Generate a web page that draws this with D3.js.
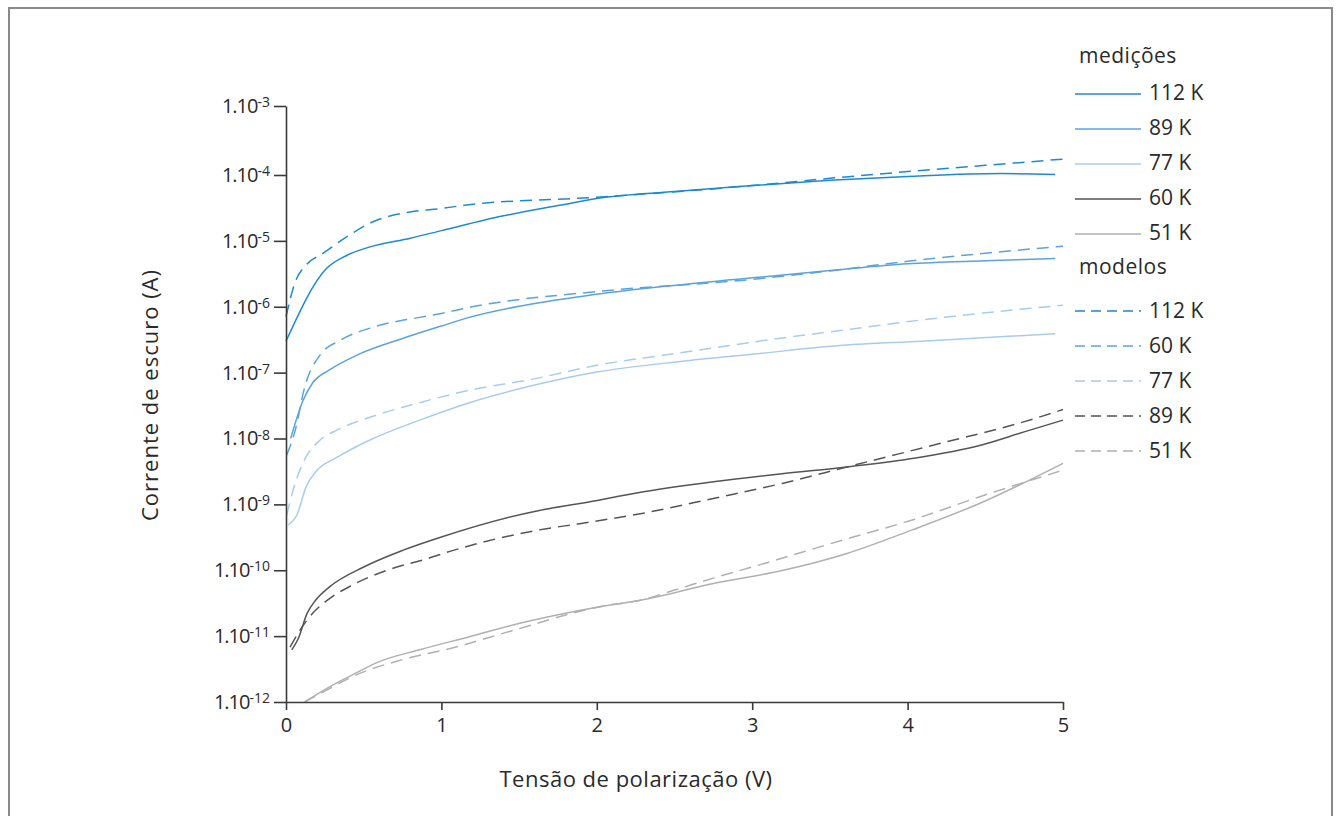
<!DOCTYPE html>
<html>
<head>
<meta charset="utf-8">
<script src="https://cdn.jsdelivr.net/npm/d3@7.9.0/dist/d3.min.js"></script>
<style>
  body { margin: 0; background: #fff; }
  svg { display: block; font-family: "Open Sans", sans-serif; }
</style>
</head>
<body>
<svg id="chart" width="1338" height="816"></svg>
<script>
// tick values
const voltTicks = [0, 1, 2, 3, 4, 5];
const currentTicks = [1e-3, 1e-4, 1e-5, 1e-6, 1e-7, 1e-8, 1e-9, 1e-10, 1e-11, 1e-12];

// medições: [tensão (V), corrente (A)]
const med112 = [[0, 3.0e-7], [0.26, 3.8e-6], [0.39, 6.0e-6], [0.54, 8.1e-6], [0.8, 1.1e-5], [1.0, 1.43e-5],
  [1.4, 2.4e-5], [1.77, 3.5e-5], [2.0, 4.4e-5], [2.5, 5.6e-5], [3.0, 6.9e-5], [3.5, 8.3e-5], [4.0, 9.5e-5],
  [4.6, 1.05e-4], [4.95, 1.02e-4]];
const med89 = [[0.03, 1.0e-8], [0.11, 3.8e-8], [0.17, 6.9e-8], [0.28, 1.1e-7], [0.46, 1.86e-7], [0.75, 3.3e-7],
  [1.0, 5.1e-7], [1.18, 6.9e-7], [1.5, 1.02e-6], [2.0, 1.55e-6], [3.0, 2.75e-6], [3.5, 3.55e-6], [4.0, 4.5e-6],
  [4.5, 5.0e-6], [4.95, 5.4e-6]];
const med77 = [[0.013, 4.9e-10], [0.07, 6.9e-10], [0.13, 1.86e-9], [0.19, 3.1e-9], [0.33, 5.2e-9], [0.54, 9.5e-9],
  [0.86, 1.9e-8], [1.18, 3.5e-8], [1.58, 6.3e-8], [2.0, 1.02e-7], [2.54, 1.48e-7], [3.0, 1.9e-7], [3.58, 2.6e-7],
  [4.09, 3.0e-7], [4.95, 3.9e-7]];
const med60 = [[0.037, 6.2e-12], [0.08, 9.3e-12], [0.135, 2.2e-11], [0.19, 3.5e-11], [0.28, 5.6e-11], [0.5, 1.12e-10],
  [0.75, 2.0e-10], [1.0, 3.2e-10], [1.63, 8.1e-10], [1.89, 1.03e-9], [2.3, 1.55e-9], [2.75, 2.2e-9], [3.18, 2.9e-9],
  [3.61, 3.7e-9], [4.04, 5.0e-9], [4.47, 7.9e-9], [4.75, 1.26e-8], [5.0, 1.9e-8]];
const med51 = [[0.12, 1.0e-12], [0.28, 1.7e-12], [0.43, 2.6e-12], [0.6, 4.1e-12], [0.86, 6.2e-12], [1.18, 9.8e-12],
  [1.51, 1.58e-11], [2.02, 2.8e-11], [2.28, 3.5e-11], [2.75, 6.3e-11], [3.2, 1.0e-10], [3.61, 1.8e-10],
  [4.03, 4.1e-10], [4.47, 1.05e-9], [5.0, 4.2e-9]];

// modelos
const mod112 = [[0, 7.1e-7], [0.06, 2.4e-6], [0.13, 4.3e-6], [0.24, 6.5e-6], [0.39, 1.15e-5], [0.56, 1.95e-5],
  [0.8, 2.75e-5], [1.0, 3.1e-5], [1.16, 3.5e-5], [2.0, 4.6e-5], [3.0, 6.9e-5], [3.5, 8.9e-5], [4.0, 1.12e-4],
  [4.5, 1.38e-4], [5.0, 1.7e-4]];
const mod60 = [[0.005, 5.6e-9], [0.06, 1.35e-8], [0.12, 6.0e-8], [0.22, 1.86e-7], [0.35, 3.1e-7], [0.56, 4.9e-7],
  [0.86, 6.9e-7], [1.0, 7.9e-7], [1.18, 9.8e-7], [2.0, 1.7e-6], [3.0, 2.6e-6], [3.5, 3.5e-6], [4.0, 4.9e-6],
  [4.5, 6.5e-6], [5.0, 8.3e-6]];
const mod77 = [[0.005, 6.9e-10], [0.04, 1.48e-9], [0.11, 4.3e-9], [0.22, 9.5e-9], [0.33, 1.35e-8], [0.54, 2.1e-8],
  [0.86, 3.5e-8], [1.18, 5.4e-8], [1.58, 7.9e-8], [2.0, 1.29e-7], [2.54, 2.0e-7], [3.0, 2.9e-7], [3.58, 4.4e-7],
  [4.09, 6.3e-7], [4.5, 8.1e-7], [5.0, 1.05e-6]];
const mod89 = [[0.026, 6.8e-12], [0.09, 1.23e-11], [0.17, 2.2e-11], [0.28, 3.7e-11], [0.43, 6.0e-11], [0.65, 1.0e-10],
  [0.91, 1.5e-10], [1.06, 1.95e-10], [1.63, 4.1e-10], [1.89, 5.1e-10], [2.28, 7.2e-10], [2.75, 1.23e-9],
  [3.2, 2.1e-9], [3.61, 3.7e-9], [4.25, 8.9e-9], [4.7, 1.66e-8], [5.0, 2.75e-8]];
const mod51 = [[0.12, 1.0e-12], [0.28, 1.6e-12], [0.43, 2.45e-12], [0.75, 4.4e-12], [1.07, 6.6e-12], [1.45, 1.2e-11],
  [2.02, 2.8e-11], [2.28, 3.5e-11], [2.5, 5.0e-11], [2.75, 7.6e-11], [3.0, 1.12e-10], [3.61, 3.0e-10],
  [4.03, 5.8e-10], [4.47, 1.32e-9], [5.0, 3.3e-9]];

const medLabels = ['112 K', '89 K', '77 K', '60 K', '51 K'];
const modLabels = ['112 K', '60 K', '77 K', '89 K', '51 K'];
const colors = ['#1c8ad2', '#5ba3dd', '#a8ccee', '#555555', '#b0b0b0'];

const medSeries = [med112, med89, med77, med60, med51];
const modSeries = [mod112, mod60, mod77, mod89, mod51];

const svg = d3.select('#chart');

// moldura
svg.append('rect')
  .attr('x', 9).attr('y', 8).attr('width', 1323).attr('height', 830)
  .attr('fill', 'none').attr('stroke', '#8a8a8a').attr('stroke-width', 2);

const x = d3.scaleLinear().domain([0, 5]).range([286, 1063]);
// top decade is drawn a bit taller in the original
const y = d3.scaleLog().domain([1e-12, 1e-4, 1e-3]).range([702, 175, 106]);

const line = d3.line()
  .x(d => x(d[0]))
  .y(d => y(d[1]))
  .curve(d3.curveMonotoneX);

// curvas
const plot = svg.append('g');
medSeries.forEach((s, i) => {
  plot.append('path')
    .attr('d', line(s))
    .attr('fill', 'none')
    .attr('stroke', colors[i])
    .attr('stroke-width', 1.5);
});
modSeries.forEach((s, i) => {
  plot.append('path')
    .attr('d', line(s))
    .attr('fill', 'none')
    .attr('stroke', colors[i])
    .attr('stroke-width', 1.5)
    .attr('stroke-dasharray', '12,7');
});

// eixos
const axisColor = '#3a3a3a';
const xAxis = svg.append('g')
  .attr('transform', 'translate(0,702)')
  .call(d3.axisBottom(x).tickValues(voltTicks).tickSize(8).tickSizeOuter(0).tickPadding(8).tickFormat(d3.format('d')));
const yAxis = svg.append('g')
  .attr('transform', 'translate(286,0)')
  .call(d3.axisLeft(y).tickValues(currentTicks).tickSize(12).tickSizeOuter(0).tickPadding(4).tickFormat(() => ''));

[xAxis, yAxis].forEach(g => {
  g.select('.domain').attr('stroke', axisColor).attr('stroke-width', 1.6);
  g.selectAll('.tick line').attr('stroke', axisColor).attr('stroke-width', 1.6);
  g.selectAll('.tick text').attr('fill', '#2a2a2a').attr('font-family', '"Open Sans", sans-serif');
});
xAxis.selectAll('.tick text').attr('font-size', 20);

yAxis.selectAll('.tick text')
  .attr('font-size', 20)
  .each(function (d) {
    const t = d3.select(this);
    t.append('tspan').attr('letter-spacing', -1).text('1.10');
    t.append('tspan')
      .attr('font-size', 14)
      .attr('dy', '-0.42em')
      .text(String(Math.round(Math.log10(d))));
  });

// títulos dos eixos
svg.append('text')
  .attr('x', 636).attr('y', 787)
  .attr('text-anchor', 'middle')
  .attr('font-size', 22).attr('letter-spacing', 0.5).attr('fill', '#2a2a2a')
  .text('Tensão de polarização (V)');
svg.append('text')
  .attr('transform', 'translate(158,395) rotate(-90)')
  .attr('text-anchor', 'middle')
  .attr('font-size', 22).attr('letter-spacing', 1).attr('fill', '#2a2a2a')
  .text('Corrente de escuro (A)');

// legenda
const legend = svg.append('g').attr('font-size', 21).attr('fill', '#2a2a2a');
legend.append('text').attr('x', 1079).attr('y', 63).attr('letter-spacing', 0.5).text('medições');
medLabels.forEach((lab, i) => {
  const cy = 93 + i * 35;
  legend.append('line')
    .attr('x1', 1075).attr('x2', 1141).attr('y1', cy + 1).attr('y2', cy + 1)
    .attr('stroke', colors[i]).attr('stroke-width', 1.5);
  legend.append('text').attr('x', 1149).attr('y', cy).attr('dy', '0.35em').text(lab);
});
legend.append('text').attr('x', 1079).attr('y', 274).attr('letter-spacing', 0.5).text('modelos');
modLabels.forEach((lab, i) => {
  const cy = 311 + i * 35;
  legend.append('line')
    .attr('x1', 1075).attr('x2', 1141).attr('y1', cy).attr('y2', cy)
    .attr('stroke', colors[i]).attr('stroke-width', 1.5)
    .attr('stroke-dasharray', '10,6');
  legend.append('text').attr('x', 1149).attr('y', cy).attr('dy', '0.35em').text(lab);
});
</script>
</body>
</html>
